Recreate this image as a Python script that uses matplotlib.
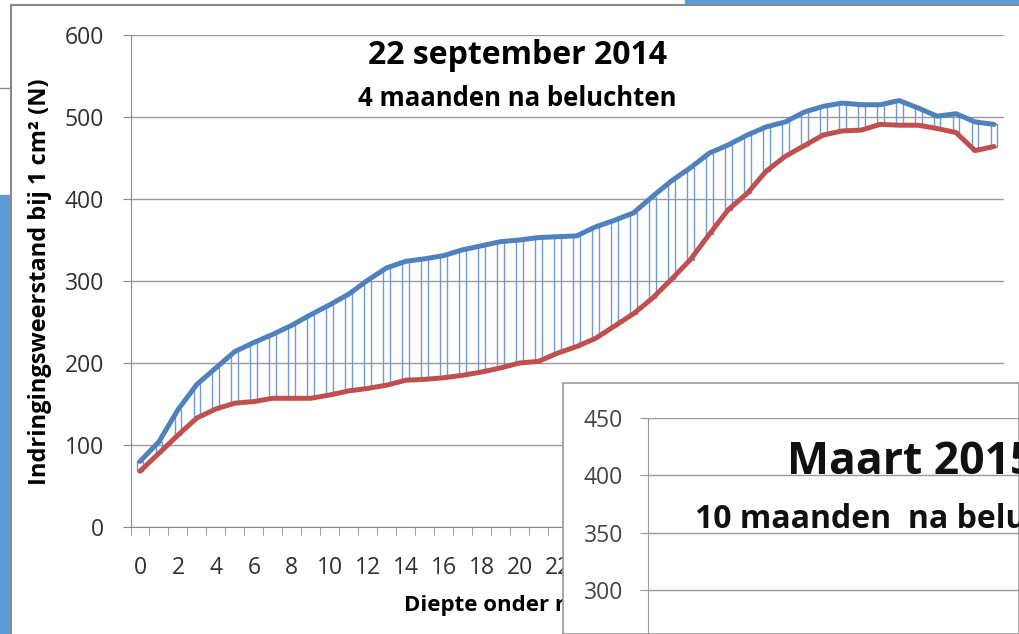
import numpy as np
import matplotlib
matplotlib.use('Agg')
import matplotlib.pyplot as plt
from matplotlib.patches import Rectangle
from matplotlib.transforms import Bbox, TransformedBbox

plt.rcParams['font.family'] = ['Open Sans', 'DejaVu Sans']

# diepte (cm) en indringingsweerstand (N)
depth = list(range(46))
blue = [80, 104, 143, 174, 194, 214, 225, 235, 246, 259, 271, 284, 301, 316, 324,
        327, 331, 338, 343, 348, 350, 353, 354, 355, 366, 374, 383, 403, 422, 438,
        456, 466, 478, 488, 494, 506, 513, 517, 515, 515, 520, 511, 501, 504, 494, 491]
red = [68, 90, 112, 133, 144, 151, 153, 157, 157, 157, 161, 166, 169, 173, 179,
       180, 182, 185, 189, 194, 200, 202, 212, 220, 230, 245, 260, 279, 302, 326,
       357, 387, 407, 434, 452, 465, 478, 483, 484, 491, 490, 490, 486, 481, 459, 464]
xtick_labels = [str(d) for d in depth if d % 2 == 0]
yticks = [0, 100, 200, 300, 400, 500, 600]
yticks2 = [300, 350, 400, 450]

W, H = 1019, 634
fig = plt.figure(figsize=(W / 100, H / 100), dpi=100)

def fx(px):
    return px / W

def fy(py):
    return 1 - py / H

# achtergrond / vensterranden
fig.patches.append(Rectangle((0, 0), fx(10), fy(195), transform=fig.transFigure,
                             color='#5B9BD5', zorder=0))
fig.patches.append(Rectangle((fx(685), fy(3)), 1, 1, transform=fig.transFigure,
                             color='#5B9BD5', zorder=0))
fig.add_artist(plt.Line2D([fx(11), fx(11)], [0, fy(5)], color='#8a8a8a', lw=1.5))
fig.add_artist(plt.Line2D([fx(11), 1], [fy(5), fy(5)], color='#8a8a8a', lw=1.5))
fig.add_artist(plt.Line2D([0, fx(10)], [fy(88), fy(88)], color='#8a8a8a', lw=1))

# alles links van de tweede grafiek
left_clip = TransformedBbox(Bbox([[0, 0], [fx(563), 1]]), fig.transFigure)

# hoofdgrafiek
ax = fig.add_axes([fx(130.5), fy(527), fx(873), 492 / H])
x = np.array(depth)
b = np.array(blue)
r = np.array(red)
ax.bar(x, b - r, bottom=r, width=0.36, facecolor='none',
       edgecolor='#6E9BD6', linewidth=1, zorder=2)
ax.plot(x, red, color='#C0504D', lw=3.6, zorder=3, solid_capstyle='round')
ax.plot(x, blue, color='#4F81BD', lw=3.6, zorder=4, solid_capstyle='round')

ax.set_xlim(-0.5, 45.5)
ax.set_ylim(0, 600)
ax.set_yticks(yticks)
ax.grid(axis='y', color='#9a9a9a', lw=1)
ax.set_axisbelow(True)
for s in ['top', 'right']:
    ax.spines[s].set_visible(False)
for s in ['left', 'bottom']:
    ax.spines[s].set_color('#8a8a8a')
ax.tick_params(axis='y', length=6, color='#8a8a8a', pad=13, labelsize=16.5,
               labelcolor='#303030')
ax.set_xticks([d for d in depth if d % 2 == 0])
ax.set_xticklabels(xtick_labels)
ax.set_xticks(np.arange(-0.5, 46, 1), minor=True)
ax.tick_params(axis='x', which='major', length=0, pad=21, labelsize=16.5,
               labelcolor='#303030')
ax.tick_params(axis='x', which='minor', length=6, color='#8a8a8a')
for lbl in ax.get_xticklabels():
    lbl.set_clip_box(left_clip)
    lbl.set_clip_on(True)

fig.text(fx(518), fy(56), '22 september 2014', ha='center', va='center',
         fontsize=23, fontweight='bold')
fig.text(fx(517), fy(98), '4 maanden na beluchten', ha='center', va='center',
         fontsize=18.5, fontweight='bold')
fig.text(fx(40), fy(282), 'Indringingsweerstand bij 1 cm² (N)', rotation=90,
         ha='center', va='center', fontsize=17, fontweight='bold')
xl = fig.text(fx(404), fy(606), 'Diepte onder maaiveld (cm)', ha='left',
              va='center', fontsize=16, fontweight='bold')
xl.set_clip_box(left_clip)
xl.set_clip_on(True)

# tweede grafiek (overlappend)
panel = fig.add_axes([fx(563), 0, fx(W - 563), (H - 383) / H], zorder=5)
panel.set_xticks([])
panel.set_yticks([])
panel.set_facecolor('white')
for s in panel.spines.values():
    s.set_color('#9a9a9a')
    s.set_linewidth(1.2)

ax2 = fig.add_axes([fx(648), 0, fx(W - 648) + 0.01, (H - 418) / H], zorder=6)
ax2.set_facecolor('none')
ax2.set_ylim(261.5, 450)
ax2.set_xlim(0, 1)
ax2.set_yticks(yticks2)
ax2.set_xticks([])
ax2.grid(axis='y', color='#9a9a9a', lw=1)
for s in ['top', 'right', 'bottom']:
    ax2.spines[s].set_visible(False)
ax2.spines['left'].set_color('#9a9a9a')
ax2.tick_params(axis='y', length=6, color='#9a9a9a', pad=12, labelsize=16.5,
                labelcolor='#444444')
ax2.text(fx(787), fy(462), 'Maart 2015', transform=fig.transFigure, ha='left',
         va='center', fontsize=32, fontweight='bold', color='#111111')
ax2.text(fx(695), fy(520), '10 maanden  na beluchten', transform=fig.transFigure,
         ha='left', va='center', fontsize=23, fontweight='bold', color='#111111')

fig.savefig('out.png', dpi=100)
